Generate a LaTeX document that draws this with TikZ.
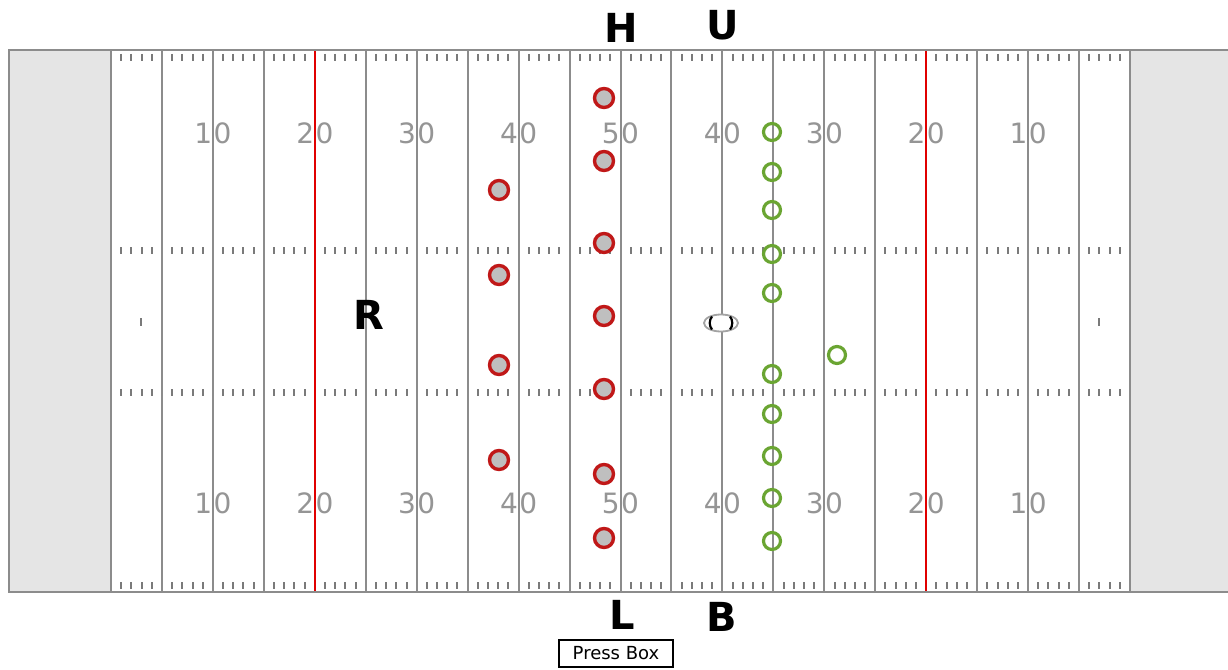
\documentclass[tikz,border=0pt]{standalone}
\usepackage{fontspec}
\setmainfont{DejaVu Sans}
\usetikzlibrary{shapes.geometric}
\definecolor{linegray}{HTML}{8C8C8C}
\definecolor{tickgray}{HTML}{7A7A7A}
\definecolor{endzone}{HTML}{E5E5E5}
\definecolor{redline}{HTML}{E00000}
\definecolor{redplayer}{HTML}{C01818}
\definecolor{redfill}{HTML}{BFBFBF}
\definecolor{greenplayer}{HTML}{6AA532}
\definecolor{numgray}{HTML}{959595}
\begin{document}
\begin{tikzpicture}[x=1pt,y=-1pt,
  yardline/.style={draw=linegray, line width=2pt},
  redyard/.style={draw=redline, line width=2pt},
  hashtick/.style={draw=tickgray, line width=2pt},
  yardnum/.style={text=numgray, font=\fontsize{28}{28}\selectfont, inner sep=0pt},
  bigletter/.style={text=black, font=\bfseries\fontsize{40}{40}\selectfont, inner sep=0pt},
  defense/.style={circle, draw=redplayer, fill=redfill, line width=3.4pt, minimum size=19pt, inner sep=0pt},
  offense/.style={circle, draw=greenplayer, line width=3.2pt, minimum size=17pt, inner sep=0pt},
  pressbox/.style={draw=black, line width=2.5pt, fill=white, font=\fontsize{18}{18}\selectfont, minimum width=114pt, minimum height=27pt, inner sep=0pt}
]
\useasboundingbox (0,0) rectangle (1228,669);
% end zones and field
\fill[white] (9,50) rectangle (1240,592);
\fill[endzone] (9,50) rectangle (111,592);
\fill[endzone] (1130,50) rectangle (1240,592);
% hash ticks
\foreach \i in {0,...,19}
  \foreach \k in {1,...,4}
    \foreach \y in {54,247,389,582}
      \draw[hashtick] ({111+\i*50.95+\k*10.19},\y) -- ++(0,7);
% two-yard marks
\draw[hashtick] (141,318) -- ++(0,8);
\draw[hashtick] (1099,318) -- ++(0,8);
% yard numbers
\foreach \idx/\a/\b in {2/1/0,4/2/0,6/3/0,8/4/0,10/5/0,12/4/0,14/3/0,16/2/0,18/1/0} {
  \node[yardnum, anchor=base east] (ta\idx) at ({111+\idx*50.95-0.5},143) {\a};
  \node[yardnum, anchor=base west] (tb\idx) at ({111+\idx*50.95+0.5},143) {\b};
  \node[yardnum, anchor=base east] (ba\idx) at ({111+\idx*50.95-0.5},513) {\a};
  \node[yardnum, anchor=base west] (bb\idx) at ({111+\idx*50.95+0.5},513) {\b};
}
% yard lines
\foreach \i in {0,...,20}
  \draw[yardline] ({111+\i*50.95},50) -- ({111+\i*50.95},592);
\draw[redyard] ({111+4*50.95},50) -- ({111+4*50.95},592);
\draw[redyard] ({111+16*50.95},50) -- ({111+16*50.95},592);
% outline
\draw[yardline] (1240,50) -- (9,50) -- (9,592) -- (1240,592);
% letters
\node[bigletter] (H) at (621,28) {H};
\node[bigletter] (U) at (723,25) {U};
\node[bigletter] (L) at (622,615) {L};
\node[bigletter] (B) at (722,617) {B};
\node[bigletter] (R) at (369,315) {R};
% press box
\node[pressbox] (press) at (616,653.5) {Press Box};
% defense
\foreach \x/\y [count=\c] in {604/98,604/161,499/190,604/243,499/275,604/316,499/365,604/389,499/460,604/474,604/538}
  \node[defense] (d\c) at (\x,\y) {};
% offense
\foreach \x/\y [count=\c] in {772/132,772/172,772/210,772/254,772/293,837/355,772/374,772/414,772/456,772/498,772/541}
  \node[offense] (o\c) at (\x,\y) {};
% football
\node[ellipse, draw=linegray!80, fill=white, line width=1.8pt, minimum width=34pt, minimum height=17pt, inner sep=0pt] (ball) at (721,323) {};
\draw[line width=2.2pt, black] (712,316.5) .. controls (709,320) and (709,326) .. (712,329.5);
\draw[line width=2.2pt, black] (730,316.5) .. controls (733,320) and (733,326) .. (730,329.5);
\end{tikzpicture}
\end{document}
